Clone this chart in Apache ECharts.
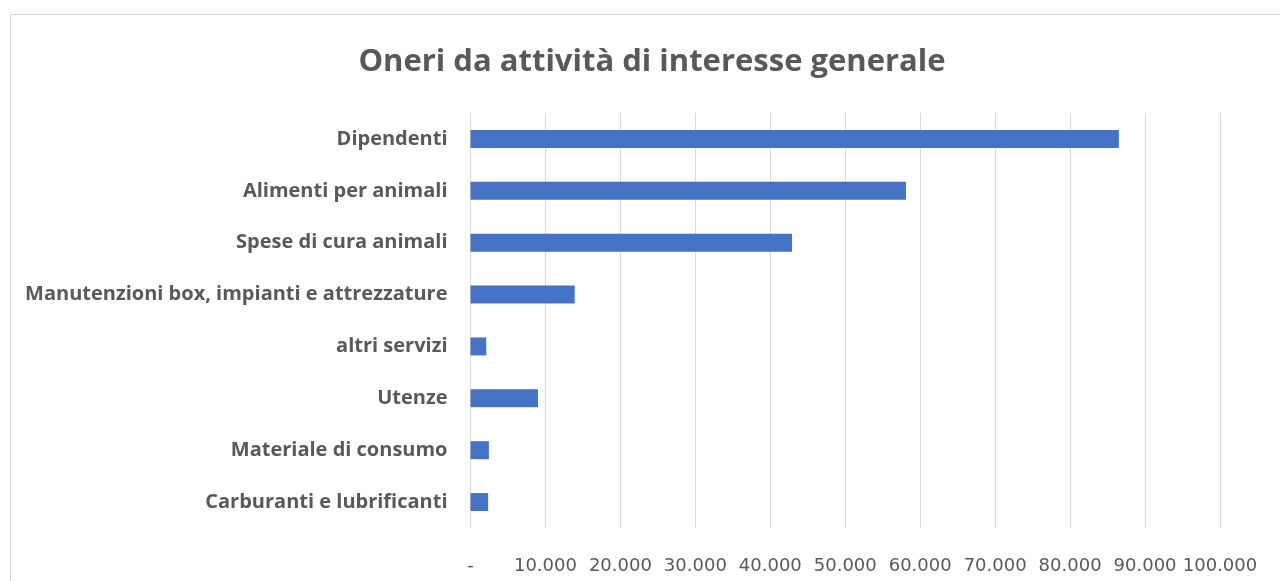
<!DOCTYPE html>
<html>
<head>
<meta charset="utf-8">
<script src="https://cdn.jsdelivr.net/npm/echarts@6/dist/echarts.min.js"></script>
<style>
html,body{margin:0;padding:0;background:#fff;}
#chart{width:1280px;height:581px;}
</style>
</head>
<body>
<div id="chart"></div>
<script>
const title = "Oneri da attività di interesse generale";
const categories = [
  "Dipendenti",
  "Alimenti per animali",
  "Spese di cura animali",
  "Manutenzioni box, impianti e attrezzature",
  "altri servizi",
  "Utenze",
  "Materiale di consumo",
  "Carburanti e lubrificanti"
];
const values = [86500, 58100, 42900, 13900, 2100, 9000, 2450, 2350];
const axisMin = 0;
const axisMax = 100000;
const axisInterval = 10000;

const chart = echarts.init(document.getElementById('chart'));
chart.setOption({
  animation: false,
  backgroundColor: '#ffffff',
  graphic: [{
    type: 'rect',
    shape: {x: 10.5, y: 14.5, width: 1300, height: 600},
    style: {fill: 'none', stroke: '#d9d9d9', lineWidth: 1},
    silent: true
  }],
  title: {
    text: title,
    left: 647,
    top: 42,
    textAlign: 'center',
    textStyle: {
      fontFamily: 'Open Sans',
      fontWeight: 'bold',
      fontSize: 31,
      color: '#595959'
    }
  },
  grid: {
    left: 470.5,
    right: 60,
    top: 113,
    bottom: 53,
    containLabel: false
  },
  xAxis: {
    type: 'value',
    min: axisMin,
    max: axisMax,
    interval: axisInterval,
    axisLine: {show: false},
    axisTick: {show: false},
    splitLine: {show: true, lineStyle: {color: '#d9d9d9', width: 1}},
    axisLabel: {
      color: '#595959',
      fontFamily: 'DejaVu Sans',
      fontSize: 18,
      margin: 29,
      formatter: function (v) {
        if (v === 0) return '-';
        return v.toLocaleString('de-DE');
      }
    }
  },
  yAxis: {
    type: 'category',
    inverse: true,
    data: categories,
    axisLine: {show: true, lineStyle: {color: '#d9d9d9'}},
    axisTick: {show: false},
    axisLabel: {
      color: '#595959',
      fontFamily: 'Open Sans',
      fontWeight: 'bold',
      fontSize: 20,
      margin: 23
    }
  },
  series: [{
    type: 'bar',
    data: values,
    barWidth: 18,
    itemStyle: {color: '#4472c4'}
  }]
});
</script>
</body>
</html>
